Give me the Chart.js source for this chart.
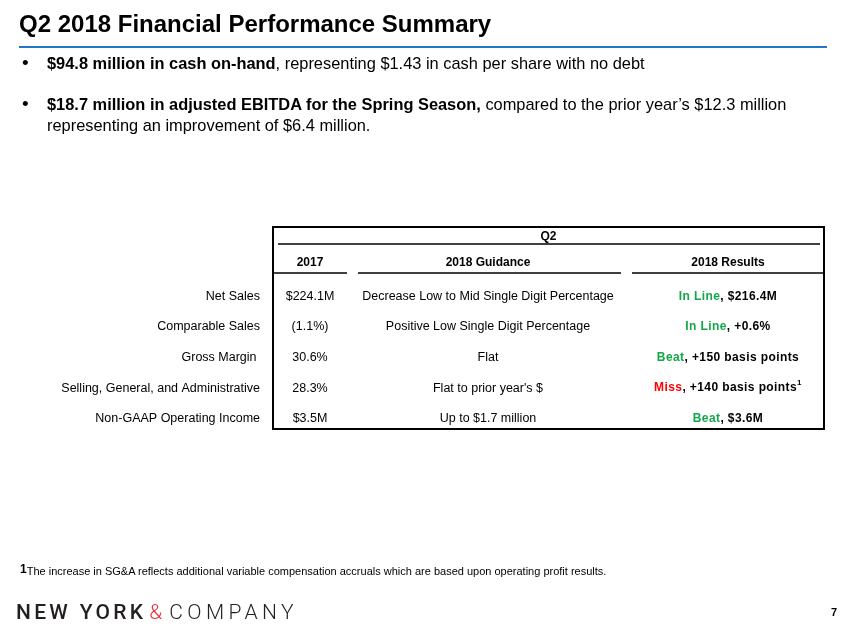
<!DOCTYPE html>
<html>
<head>
<meta charset="utf-8">
<script src="https://cdn.jsdelivr.net/npm/chart.js@4.4.0/dist/chart.umd.min.js"></script>
<style>
html, body { margin: 0; padding: 0; background: #fff; }
body { width: 846px; height: 635px; position: relative; overflow: hidden; color: #000;
       font-family: "Liberation Sans Narrow", "Arial Narrow", "Liberation Sans", Arial, sans-serif; }
#summary { position: absolute; left: 0; top: 0; }
.t { position: absolute; white-space: nowrap; line-height: 1; }
#title { left: 19px; top: 12px; font-size: 24px; font-weight: bold; }
#rule { position: absolute; left: 19px; top: 46px; width: 808px; height: 2px; background: #1f78c8; }
.bullet { font-size: 16.4px; }
.dot { position: absolute; font-size: 19px; line-height: 1; font-family: "Liberation Sans", Arial, sans-serif; }
#foot { left: 20px; top: 565px; font-size: 11px; }
#foot b { font-family: "Liberation Sans", Arial, sans-serif; font-size: 12px; position: relative; top: -2px; }
#logo { left: 16px; top: 602px; font-family: Roboto, "Liberation Sans", Arial, sans-serif; font-size: 21px; color: #231f20; }
#logo .a { font-weight: 500; letter-spacing: 3.3px; }
#logo .amp { color: #e52d3a; font-weight: 300; margin-left: 3px; margin-right: 7px; }
#logo .c { font-weight: 300; letter-spacing: 4.4px; }
#page { left: 831px; top: 607px; font-size: 11px; font-weight: bold; font-family: "Liberation Sans", Arial, sans-serif; }
</style>
</head>
<body>
<canvas id="summary" width="846" height="635"></canvas>

<div class="t" id="title">Q2 2018 Financial Performance Summary</div>
<div id="rule"></div>

<div class="dot" style="left:22px; top:53px;">&bull;</div>
<div class="t bullet" style="left:47px; top:55px;"><b>$94.8 million in cash on-hand</b>, representing $1.43 in cash per share with no debt</div>

<div class="dot" style="left:22px; top:94px;">&bull;</div>
<div class="t bullet" style="left:47px; top:96px;"><b>$18.7 million in adjusted EBITDA for the Spring Season,</b> compared to the prior year&rsquo;s $12.3 million</div>
<div class="t bullet" style="left:47px; top:117px;">representing an improvement of $6.4 million.</div>

<div class="t" id="foot"><b>1</b>The increase in SG&amp;A reflects additional variable compensation accruals which are based upon operating profit results.</div>

<div class="t" id="logo"><span class="a">NEW YORK</span><span class="amp">&amp;</span><span class="c">COMPANY</span></div>
<div class="t" id="page">7</div>

<script>
// table content
const groupLabel = 'Q2';
const columnLabels = ['2017', '2018 Guidance', '2018 Results'];
const rowLabels = ['Net Sales', 'Comparable Sales', 'Gross Margin ', 'Selling, General, and Administrative', 'Non-GAAP Operating Income'];
const values2017 = ['$224.1M', '(1.1%)', '30.6%', '28.3%', '$3.5M'];
const guidance2018 = ['Decrease Low to Mid Single Digit Percentage', 'Positive Low Single Digit Percentage', 'Flat', "Flat to prior year's $", 'Up to $1.7 million'];
const resultVerdicts = ['In Line', 'In Line', 'Beat', 'Miss', 'Beat'];
const resultFigures = ['$216.4M', '+0.6%', '+150 basis points', '+140 basis points', '$3.6M'];
const resultNotes = ['', '', '', '1', ''];

// layout (table units = pixels across the table box)
const TABLE_W = 553;
const colCenters = [38, 216, 456];
const headUnderlines = [[0, 75], [86, 349], [360, 553]];
const verdictColors = { 'In Line': '#12a84a', 'Beat': '#12a84a', 'Miss': '#ff0000' };
const FONT = '"Liberation Sans", Arial, sans-serif';

const tablePlugin = {
  id: 'tablePlugin',
  afterDatasetsDraw(chart) {
    const ctx = chart.ctx;
    const ca = chart.chartArea;
    const xs = chart.scales.x;
    const top = ca.top - 54, bottom = ca.bottom - 5;
    ctx.save();
    ctx.strokeStyle = '#000';
    ctx.fillStyle = '#000';

    // frame
    ctx.lineWidth = 2;
    ctx.strokeRect(ca.left + 1, top, ca.width - 2, bottom - top);

    // group header
    ctx.font = 'bold 12px ' + FONT;
    ctx.textAlign = 'center';
    ctx.textBaseline = 'middle';
    ctx.fillText(groupLabel, (ca.left + ca.right) / 2, top + 10);
    ctx.lineWidth = 1.5;
    ctx.beginPath();
    ctx.moveTo(ca.left + 6, top + 17);
    ctx.lineTo(ca.right - 5, top + 17);
    ctx.stroke();

    // column headers
    columnLabels.forEach((lab, i) => {
      ctx.fillText(lab, xs.getPixelForValue(colCenters[i]), top + 36);
    });
    headUnderlines.forEach(([a, b]) => {
      ctx.beginPath();
      ctx.moveTo(xs.getPixelForValue(a), top + 46);
      ctx.lineTo(xs.getPixelForValue(b), top + 46);
      ctx.stroke();
    });

    // cells
    chart.data.datasets.forEach((ds, di) => {
      const meta = chart.getDatasetMeta(di);
      meta.data.forEach((pt, i) => {
        const x = pt.x, y = pt.y;
        if (ds.kind === 'plain') {
          ctx.font = '12.5px ' + FONT;
          ctx.letterSpacing = '0px';
          ctx.fillStyle = '#000';
          ctx.textAlign = 'center';
          ctx.fillText(ds.cells[i], x, y);
        } else {
          ctx.font = 'bold 12px ' + FONT;
          ctx.letterSpacing = '0.4px';
          ctx.textAlign = 'left';
          const v = resultVerdicts[i];
          const rest = ', ' + resultFigures[i];
          const wv = ctx.measureText(v).width;
          const wr = ctx.measureText(rest).width;
          ctx.font = 'bold 8px ' + FONT;
          const wn = resultNotes[i] ? ctx.measureText(resultNotes[i]).width : 0;
          const x0 = x - (wv + wr + wn) / 2;
          ctx.font = 'bold 12px ' + FONT;
          ctx.fillStyle = verdictColors[v];
          ctx.fillText(v, x0, y);
          ctx.fillStyle = '#000';
          ctx.fillText(rest, x0 + wv, y);
          if (resultNotes[i]) {
            ctx.font = 'bold 8px ' + FONT;
            ctx.fillText(resultNotes[i], x0 + wv + wr, y - 5);
          }
        }
      });
    });
    ctx.restore();
  }
};

const cellData = col => rowLabels.map(r => ({ x: colCenters[col], y: r }));

new Chart(document.getElementById('summary'), {
  type: 'scatter',
  data: {
    datasets: [
      { label: columnLabels[0], data: cellData(0), kind: 'plain', cells: values2017 },
      { label: columnLabels[1], data: cellData(1), kind: 'plain', cells: guidance2018 },
      { label: columnLabels[2], data: cellData(2), kind: 'result' }
    ]
  },
  options: {
    responsive: false,
    animation: false,
    events: [],
    layout: { padding: { top: 281, bottom: 201, right: 21, left: 0 } },
    elements: { point: { radius: 0 } },
    plugins: { legend: { display: false }, tooltip: { enabled: false } },
    scales: {
      x: { type: 'linear', min: 0, max: TABLE_W, display: false },
      y: {
        type: 'category',
        labels: rowLabels,
        offset: true,
        grid: { display: false, drawTicks: false },
        border: { display: false },
        ticks: { color: '#000', padding: 12, font: { family: FONT, size: 12.5 } },
        afterFit(scale) { scale.width = 272; }
      }
    }
  },
  plugins: [tablePlugin]
});
</script>
</body>
</html>
